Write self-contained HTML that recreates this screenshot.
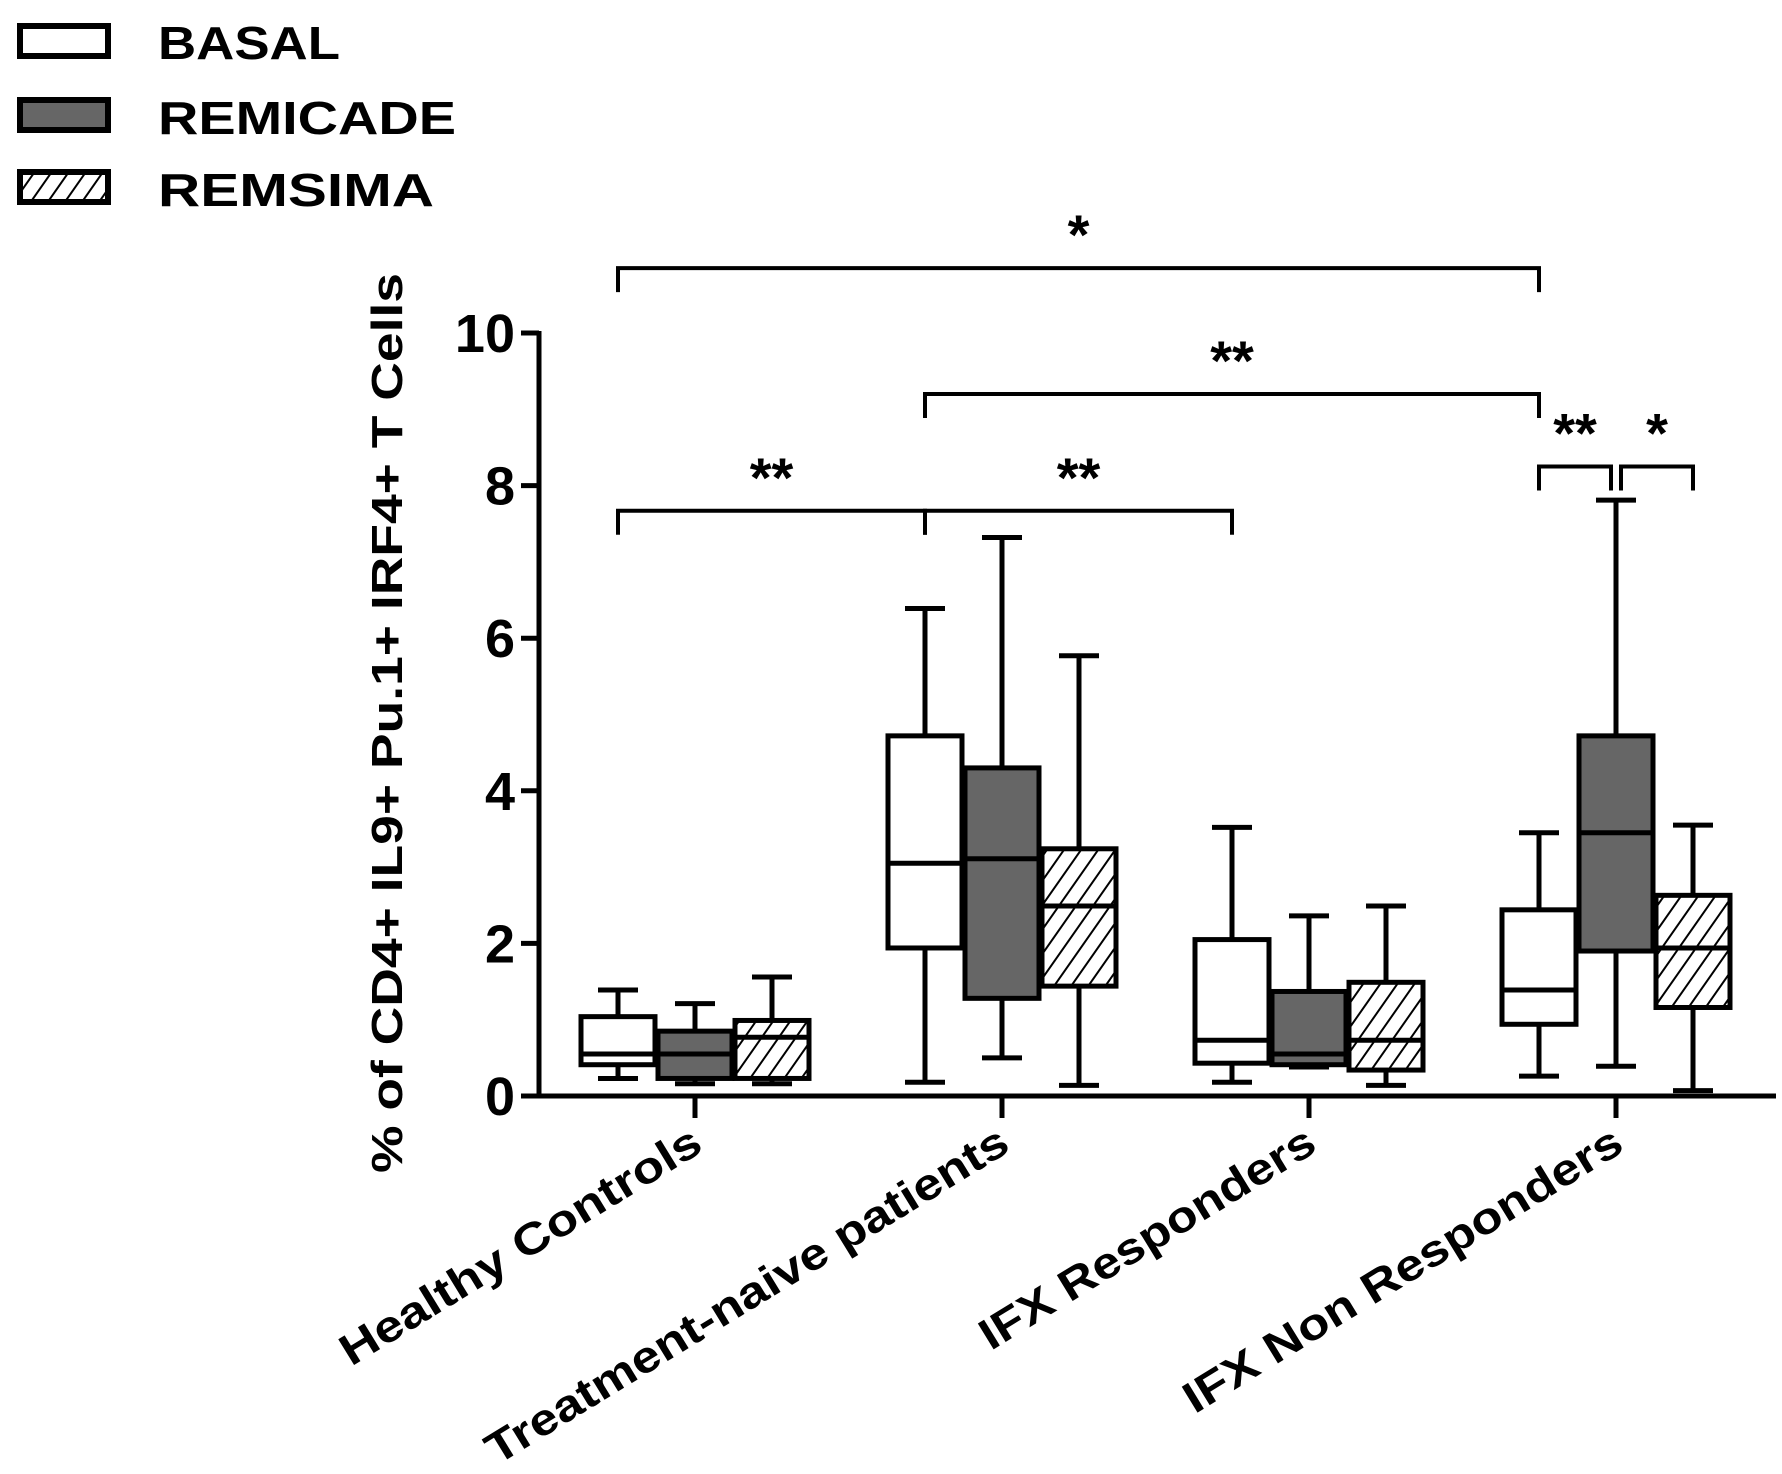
<!DOCTYPE html>
<html><head><meta charset="utf-8"><style>
body{margin:0;background:#fff}svg{display:block}
text{font-family:"Liberation Sans",Arial,sans-serif;font-weight:bold;fill:#000}
</style></head><body>
<svg id="chart" width="1782" height="1474" viewBox="0 0 1782 1474" xmlns="http://www.w3.org/2000/svg">
<defs><pattern id="hatch" patternUnits="userSpaceOnUse" width="14" height="14" patternTransform="rotate(35)"><rect width="14" height="14" fill="#fff"/><line x1="0" y1="0" x2="0" y2="14" stroke="#000" stroke-width="4"/></pattern></defs>
<g>
<g><rect x="20" y="26" width="88" height="30" fill="#fff" stroke="#000" stroke-width="6"/><text x="158" y="59" font-size="46" textLength="182" lengthAdjust="spacingAndGlyphs">BASAL</text></g>
<g><rect x="20" y="100" width="88" height="30" fill="#666" stroke="#000" stroke-width="6"/><text x="158" y="134" font-size="46" textLength="298" lengthAdjust="spacingAndGlyphs">REMICADE</text></g>
<g><rect x="20" y="172" width="88" height="30" fill="url(#hatch)" stroke="#000" stroke-width="6"/><text x="158" y="206" font-size="46" textLength="276" lengthAdjust="spacingAndGlyphs">REMSIMA</text></g>
</g>
<g id="plot"></g>
</svg>
<script>
const categories=["Healthy Controls","Treatment-naive patients","IFX Responders","IFX Non Responders"];
const seriesNames=["BASAL","REMICADE","REMSIMA"];
// each entry: [min, q1, median, q3, max]
const basal=[[0.23,0.41,0.55,1.04,1.39],[0.18,1.94,3.05,4.72,6.39],[0.18,0.43,0.73,2.05,3.52],[0.26,0.94,1.39,2.44,3.45]];
const remicade=[[0.16,0.23,0.55,0.85,1.21],[0.50,1.28,3.11,4.30,7.32],[0.38,0.41,0.55,1.37,2.36],[0.39,1.90,3.45,4.72,7.81]];
const remsima=[[0.16,0.23,0.77,0.99,1.56],[0.14,1.44,2.49,3.24,5.77],[0.14,0.34,0.73,1.49,2.49],[0.07,1.16,1.94,2.63,3.55]];
const yTicks=[0,2,4,6,8,10];
// brackets: [fromCat, fromSeries, toCat, toSeries, yValue, label]
const brackets=[[0,0,3,0,10.85,"*"],[1,0,3,0,9.2,"**"],[0,0,1,0,7.67,"**"],[1,0,2,0,7.67,"**"],[3,0,3,1,8.25,"**"],[3,1,3,2,8.25,"*"]];
const NS="http://www.w3.org/2000/svg";
const g=document.getElementById('plot');
const y0=1096,yPer=76.3,xAxis=539;
const y=v=>y0-v*yPer;
const catX=i=>695+i*307;
const off=[-77,0,77];
const sx=(c,s)=>catX(c)+off[s];
const labelLen=[415,604,385,506];
function el(t,a,p){const e=document.createElementNS(NS,t);for(const k in a)e.setAttribute(k,a[k]);(p||g).appendChild(e);return e;}
const SW=5;
const ya=el('line',{x1:xAxis,y1:y(10)-2,x2:xAxis,y2:y0+2,stroke:'#000','stroke-width':SW});


yTicks.forEach(t=>{
 const l=el('line',{x1:xAxis-18,y1:y(t),x2:xAxis,y2:y(t),stroke:'#000','stroke-width':SW});
 
 
 const tx=el('text',{x:xAxis-24,y:y(t)+19,'font-size':54,'text-anchor':'end'});tx.textContent=t;
 
 
});
const xa=el('line',{x1:xAxis-18,y1:y0,x2:1776,y2:y0,stroke:'#000','stroke-width':SW});


categories.forEach((c,i)=>{
 const l=el('line',{x1:catX(i),y1:y0,x2:catX(i),y2:y0+22,stroke:'#000','stroke-width':SW});
 
 
 const tx=el('text',{x:0,y:0,'font-size':44,'text-anchor':'end',textLength:labelLen[i],lengthAdjust:'spacingAndGlyphs',transform:`translate(${catX(i)+10},${y0+54}) rotate(-31.5)`});tx.textContent=c;
 
 
});
const yt=el('text',{x:0,y:0,'font-size':44,'text-anchor':'middle',textLength:900,lengthAdjust:'spacingAndGlyphs',transform:`translate(402,723) rotate(-90)`});
yt.textContent='% of CD4+ IL9+ Pu.1+ IRF4+ T Cells';


const fills=['#fff','#666','url(#hatch)'];
[basal,remicade,remsima].forEach((ser,s)=>{
 ser.forEach((d,c)=>{
  const cx=sx(c,s),w=74,cap=20;
  const bg=el('g',{});
  
  
  el('line',{x1:cx,y1:y(d[4]),x2:cx,y2:y(d[0]),stroke:'#000','stroke-width':SW},bg);
  el('line',{x1:cx-cap,y1:y(d[4]),x2:cx+cap,y2:y(d[4]),stroke:'#000','stroke-width':SW},bg);
  el('line',{x1:cx-cap,y1:y(d[0]),x2:cx+cap,y2:y(d[0]),stroke:'#000','stroke-width':SW},bg);
  el('rect',{x:cx-w/2,y:y(d[3]),width:w,height:y(d[1])-y(d[3]),fill:fills[s],stroke:'#000','stroke-width':SW},bg);
  el('line',{x1:cx-w/2,y1:y(d[2]),x2:cx+w/2,y2:y(d[2]),stroke:'#000','stroke-width':SW},bg);
 });
});
brackets.forEach(b=>{
 let x1=sx(b[0],b[1]),x2=sx(b[2],b[3]);const yy=y(b[4]);
 if(b[0]===b[2]){x1+=(b[1]===1?5:0);x2-=(b[3]===1?5:0);}
 const bg=el('g',{});
 
 
 el('path',{d:`M${x1} ${yy+24}V${yy}H${x2}V${yy+24}`,fill:'none',stroke:'#000','stroke-width':SW-1},bg);
 const tx=el('text',{x:(x1+x2)/2,y:yy-14,'font-size':56,'text-anchor':'middle'},bg);tx.textContent=b[5];
});
</script>
</body></html>
